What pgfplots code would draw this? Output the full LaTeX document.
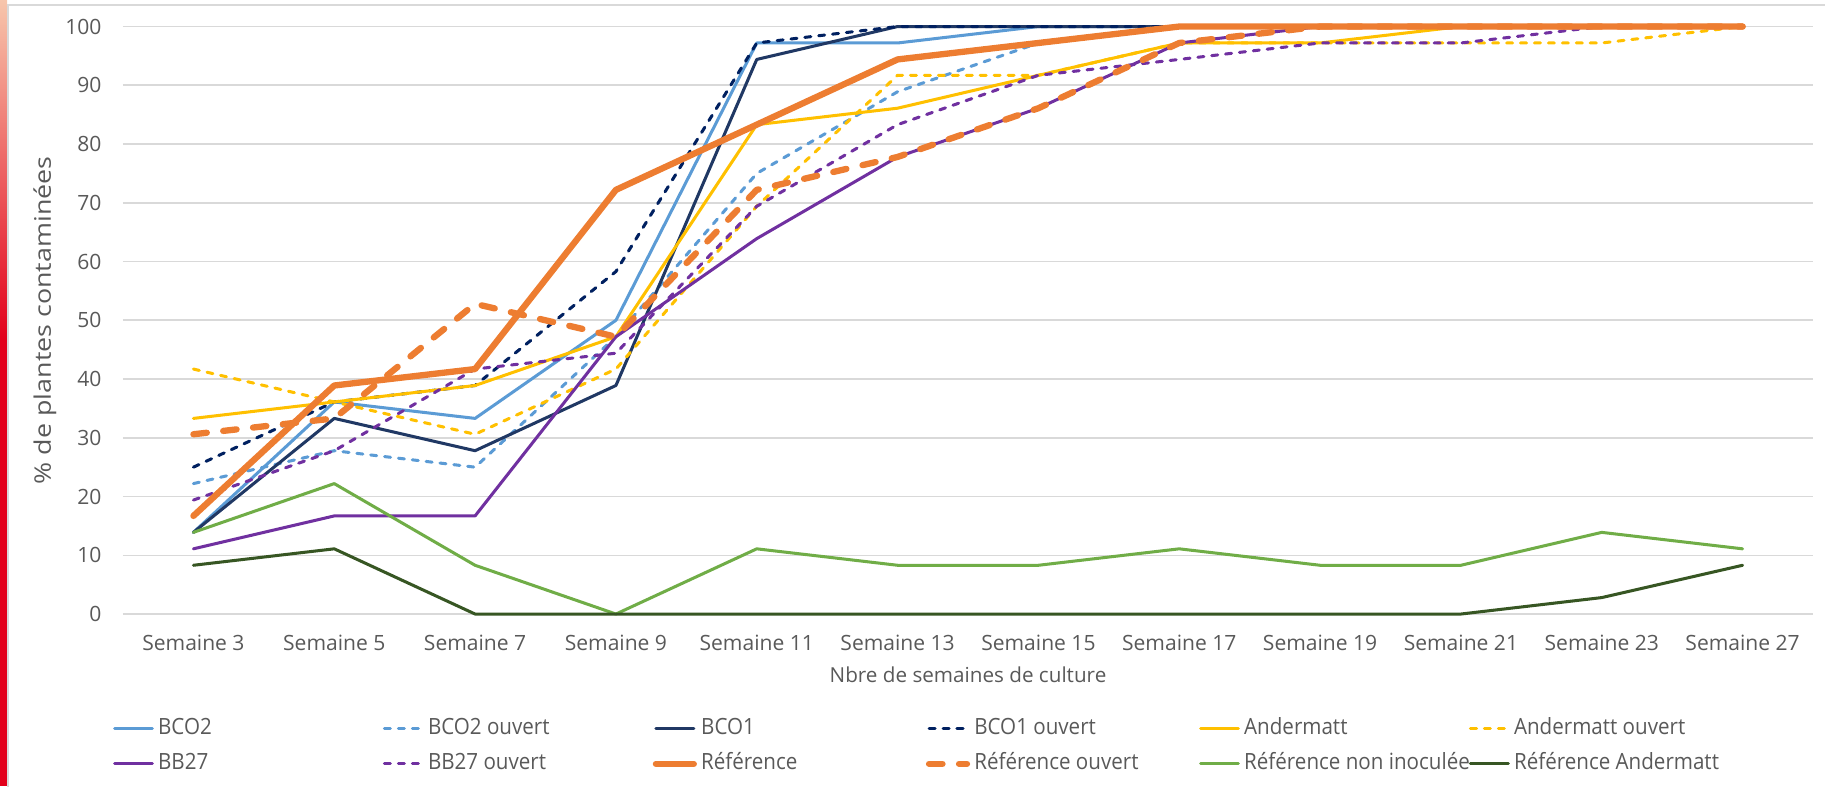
\documentclass[border=0pt]{standalone}
\usepackage{fontspec}
\setmainfont{Open Sans}
\newfontfamily\ylabelfont{Open Sans}
\newfontfamily\legendfont{Open Sans}[FakeStretch=0.92]
\usepackage{graphicx}
\usepackage{pgfplots}
\usepackage{pgfplotstable}
\pgfplotsset{compat=1.18}

% series colours
\definecolor{cBCOtwo}{HTML}{5B9BD5}
\definecolor{cBCOone}{HTML}{203864}
\definecolor{cBCOoneO}{HTML}{002060}
\definecolor{cAnd}{HTML}{FFC000}
\definecolor{cBB}{HTML}{7030A0}
\definecolor{cRef}{HTML}{ED7D31}
\definecolor{cRefNI}{HTML}{70AD47}
\definecolor{cRefAnd}{HTML}{375623}
\definecolor{txt}{HTML}{595959}
\definecolor{gridc}{HTML}{D9D9D9}
\definecolor{barTop}{HTML}{F7C6AC}
\definecolor{barMid}{HTML}{EC6A45}
\definecolor{barRed}{HTML}{E2001A}

% % of contaminated plants per week (index 0..11 = Semaine 3 ... Semaine 27)
\pgfplotstableread{
idx bcotwo bcotwoo bcoone bcooneo and ando bb bbo ref refo refni refand
0   13.9   22.2    13.9   25.0    33.3 41.7 11.1 19.4 16.7 30.6 13.9 8.3
1   36.1   27.8    33.3   36.1    36.1 36.1 16.7 27.8 38.9 33.3 22.2 11.1
2   33.3   25.0    27.8   38.9    38.9 30.6 16.7 41.7 41.7 52.8 8.3  0
3   50.0   47.2    38.9   58.3    47.2 41.7 47.2 44.4 72.2 47.2 0    0
4   97.2   75.0    94.4   97.2    83.3 69.4 63.9 69.4 83.3 72.2 11.1 0
5   97.2   88.9    100    100     86.1 91.7 77.8 83.3 94.4 77.8 8.3  0
6   100    97.2    100    100     91.7 91.7 86.1 91.7 97.2 86.1 8.3  0
7   100    100     100    100     97.2 97.2 97.2 94.4 100  97.2 11.1 0
8   100    100     100    100     97.2 97.2 100  97.2 100  100  8.3  0
9   100    100     100    100     100  97.2 100  97.2 100  100  8.3  0
10  100    100     100    100     100  97.2 100  100  100  100  13.9 2.8
11  100    100     100    100     100  100  100  100  100  100  11.1 8.3
}\contam

\newcommand\legtext[1]{\hspace*{1.6pt}\makebox[85.4pt][l]{#1}}

\begin{document}
\begin{tikzpicture}
\useasboundingbox (0,0) rectangle (693.5pt,298.7pt);
% coloured strip on the left edge
\shade[top color=barTop, middle color=barMid, bottom color=barRed]
  (0,169.5pt) rectangle (2.66pt,298.7pt);
\fill[barRed] (0,0) rectangle (2.66pt,169.6pt);
% chart area frame
\draw[gridc, line width=0.6pt] (3.05pt,-2pt) -- (3.05pt,296.8pt) -- (700pt,296.8pt);

\begin{axis}[
  at={(46.74pt,65.36pt)}, anchor=south west,
  scale only axis, width=642.2pt, height=223.25pt,
  xmin=-0.5, xmax=11.5, ymin=0, ymax=100,
  xtick={0,...,11},
  xticklabels={Semaine 3,Semaine 5,Semaine 7,Semaine 9,Semaine 11,Semaine 13,
               Semaine 15,Semaine 17,Semaine 19,Semaine 21,Semaine 23,Semaine 27},
  ytick={0,10,...,100},
  ymajorgrids, grid style={draw=gridc, line width=0.6pt},
  axis line style={draw=none},
  major tick length=0pt,
  clip=false,
  tick label style={font=\fontsize{8}{9}\selectfont, text=txt, inner sep=0pt},
  xticklabel style={anchor=base, yshift=-13.7pt},
  yticklabel style={anchor=east, xshift=-8pt},
  /pgf/number format/assume math mode=true,
  xlabel={Nbre de semaines de culture},
  xlabel style={at={(axis description cs:0.5,-0.117)}, anchor=base,
                font=\fontsize{7.85}{9}\selectfont, text=txt, inner sep=0pt},
  ylabel={\scalebox{1}[0.85]{\ylabelfont\fontsize{10.2}{12}\selectfont \% de plantes contaminées}},
  ylabel style={at={(axis description cs:-0.0462,0.5)}, anchor=center, text=txt, inner sep=0pt},
  legend columns=6,
  legend cell align=left,
  legend style={at={(axis description cs:-0.0059,-0.177)}, anchor=north west,
                draw=none, fill=none, inner sep=0pt, outer sep=0pt,
                column sep=0pt, row sep=5.4pt,
                font=\legendfont\fontsize{8.5}{10}\selectfont, text=txt,
                nodes={inner sep=0pt, text height=6.2pt, text depth=1.8pt}},
  legend image code/.code={\draw[#1] (0pt,0pt) -- (14.4pt,0pt);},
  every axis plot/.append style={line join=round, line cap=round},
  thin line/.style={line width=1.15pt},
  thin dash/.style={line width=1.15pt, dash pattern=on 2.3pt off 3pt},
  thick line/.style={line width=2.4pt},
  thick dash/.style={line width=2.4pt, dash pattern=on 5.1pt off 6.3pt},
]
\addplot[thin line, cBCOtwo]  table[x=idx, y=bcotwo]  {\contam};
\addlegendentry{\legtext{BCO2}}
\addplot[thin dash, cBCOtwo]  table[x=idx, y=bcotwoo] {\contam};
\addlegendentry{\legtext{BCO2 ouvert}}
\addplot[thin line, cBCOone]  table[x=idx, y=bcoone]  {\contam};
\addlegendentry{\legtext{BCO1}}
\addplot[thin dash, cBCOoneO] table[x=idx, y=bcooneo] {\contam};
\addlegendentry{\legtext{BCO1 ouvert}}
\addplot[thin line, cAnd]     table[x=idx, y=and]     {\contam};
\addlegendentry{\legtext{Andermatt}}
\addplot[thin dash, cAnd]     table[x=idx, y=ando]    {\contam};
\addlegendentry{\legtext{Andermatt ouvert}}
\addplot[thin line, cBB]      table[x=idx, y=bb]      {\contam};
\addlegendentry{\legtext{BB27}}
\addplot[thin dash, cBB]      table[x=idx, y=bbo]     {\contam};
\addlegendentry{\legtext{BB27 ouvert}}
\addplot[thick line, cRef]    table[x=idx, y=ref]     {\contam};
\addlegendentry{\legtext{Référence}}
\addplot[thick dash, cRef]    table[x=idx, y=refo]    {\contam};
\addlegendentry{\legtext{Référence ouvert}}
\addplot[thin line, cRefNI]   table[x=idx, y=refni]   {\contam};
\addlegendentry{\legtext{Référence non inoculée}}
\addplot[thin line, cRefAnd]  table[x=idx, y=refand]  {\contam};
\addlegendentry{\legtext{Référence Andermatt}}
\end{axis}
\end{tikzpicture}
\end{document}
